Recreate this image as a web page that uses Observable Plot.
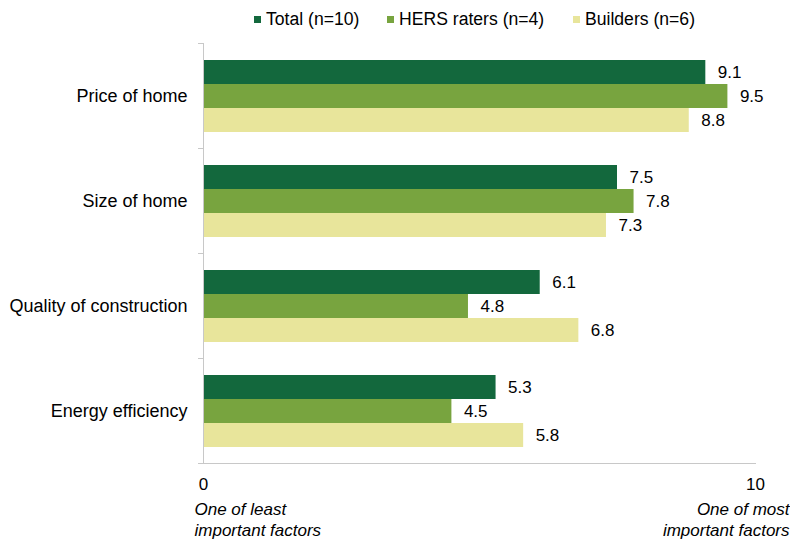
<!DOCTYPE html>
<html>
<head>
<meta charset="utf-8">
<script src="https://cdn.jsdelivr.net/npm/d3@7"></script>
<script src="https://cdn.jsdelivr.net/npm/@observablehq/plot@0.6"></script>
<style>
  html, body { margin: 0; padding: 0; background: #fff; }
  #wrap { position: relative; width: 790px; height: 540px; font-family: "Liberation Sans", Arial, sans-serif; }
  #legend { position: absolute; left: 0; top: 8px; width: 790px; height: 22px; font-size: 17.6px; color: #000; line-height: 22px; z-index: 2; }
  #legend .item { position: absolute; top: 0; display: flex; align-items: center; gap: 5px; white-space: nowrap; }
  #legend .sw { width: 7px; height: 7px; display: inline-block; }
</style>
</head>
<body>
<div id="wrap"><div id="legend"></div></div>
<script>
const categories = ["Price of home", "Size of home", "Quality of construction", "Energy efficiency"];
const seriesNames = ["Total (n=10)", "HERS raters (n=4)", "Builders (n=6)"];
const totalValues = [9.1, 7.5, 6.1, 5.3];
const hersValues = [9.5, 7.8, 4.8, 4.5];
const builderValues = [8.8, 7.3, 6.8, 5.8];
const seriesColors = ["#13683D", "#78A43F", "#E8E59B"];
const xTicks = [0, 10];
const xNotes = ["One of least\nimportant factors", "One of most\nimportant factors"];

const seriesValues = [totalValues, hersValues, builderValues];
const data = [];
categories.forEach((c, i) => {
  seriesNames.forEach((s, j) => {
    data.push({category: c, series: s, value: seriesValues[j][i]});
  });
});
const lastCat = categories[categories.length - 1];
const axisGray = "#C8C8C8";
const font = "'Liberation Sans', Arial, sans-serif";

const plot = Plot.plot({
  width: 790,
  height: 540,
  marginLeft: 203,
  marginRight: 35,
  marginTop: 43,
  marginBottom: 77,
  style: {fontFamily: font, fontSize: "17px", color: "#000", background: "transparent"},
  x: {domain: [0, 10], axis: null},
  y: {domain: seriesNames, axis: null, paddingInner: 0, paddingOuter: 0.64},
  fy: {domain: categories, padding: 0, axis: null},
  color: {domain: seriesNames, range: seriesColors},
  marks: [
    Plot.barX(data, {x: "value", y: "series", fy: "category", fill: "series"}),
    Plot.text(data, {x: "value", y: "series", fy: "category", text: d => d.value.toFixed(1),
      textAnchor: "start", dx: 12, fontSize: 17, fill: "#000"}),
    Plot.axisFy({anchor: "left", tickSize: 0, tickPadding: 16, fontSize: 18, label: null}),
    Plot.ruleX([0], {stroke: axisGray}),
    Plot.frame({anchor: "top", insetLeft: -5, insetRight: 552, stroke: axisGray}),
    Plot.frame({anchor: "bottom", insetLeft: -5, stroke: axisGray, fy: () => lastCat}),
    Plot.text(xTicks, {x: d => d, fy: () => lastCat, frameAnchor: "bottom", dy: 21,
      text: d => String(d), fontSize: 17, fill: "#000", lineAnchor: "middle"}),
    Plot.text([xTicks[0]], {x: d => d, fy: () => lastCat, frameAnchor: "bottom", dy: 55,
      text: () => xNotes[0], fontSize: 17, fontStyle: "italic", fill: "#000", lineAnchor: "middle",
      lineHeight: 1.24, textAnchor: "start", dx: -9}),
    Plot.text([xTicks[1]], {x: d => d, fy: () => lastCat, frameAnchor: "bottom", dy: 55,
      text: () => xNotes[1], fontSize: 17, fontStyle: "italic", fill: "#000", lineAnchor: "middle",
      lineHeight: 1.24, textAnchor: "end", dx: 34})
  ]
});
document.getElementById("wrap").appendChild(plot);
plot.style.position = "absolute";
plot.style.left = "0";
plot.style.top = "0";

const legendX = [254, 387, 573];
const legend = document.getElementById("legend");
seriesNames.forEach((s, i) => {
  const item = document.createElement("div");
  item.className = "item";
  item.style.left = legendX[i] + "px";
  const sw = document.createElement("span");
  sw.className = "sw";
  sw.style.background = seriesColors[i];
  const lab = document.createElement("span");
  lab.textContent = s;
  item.appendChild(sw);
  item.appendChild(lab);
  legend.appendChild(item);
});
</script>
</body>
</html>
